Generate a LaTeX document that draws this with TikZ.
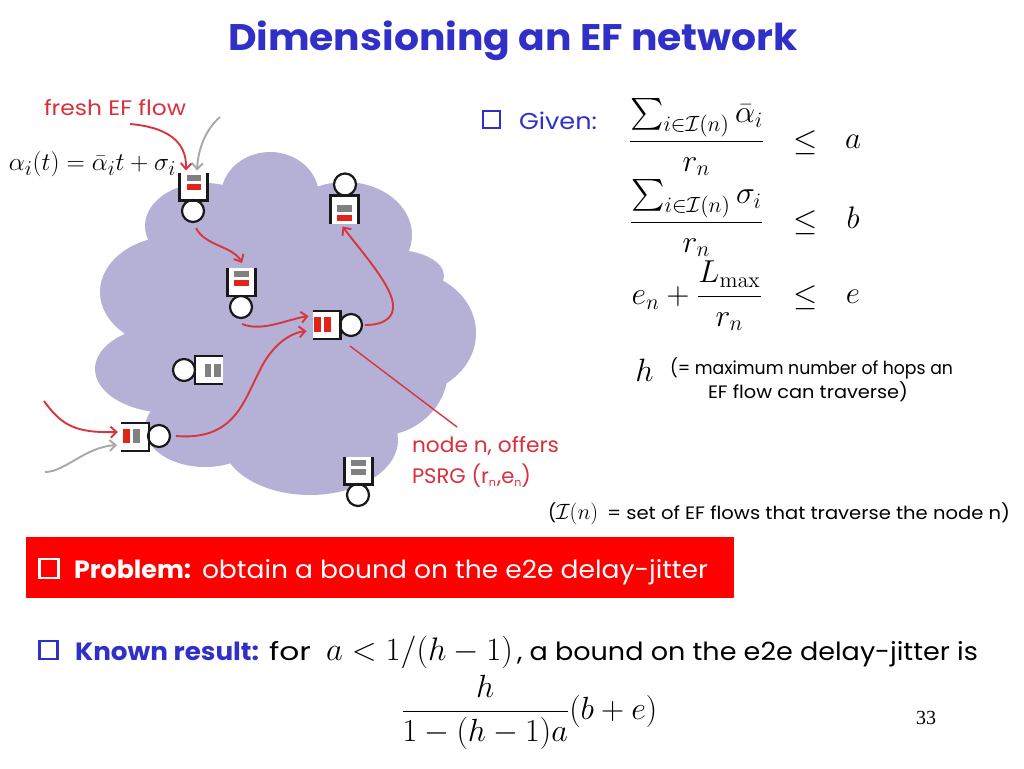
\documentclass[tikz,border=0pt]{standalone}
\usepackage[no-math]{fontspec}
\usepackage{graphicx}
\usepackage{amsmath}
\setmainfont{Poppins}
\newfontfamily\numfont{Liberation Serif}
\usetikzlibrary{arrows.meta}
\definecolor{slideblue}{HTML}{3030C8}
\definecolor{cloudc}{HTML}{B5B1D6}
\definecolor{barred}{HTML}{E2231A}
\definecolor{barg}{HTML}{808080}
\definecolor{flowred}{HTML}{D8353C}
\definecolor{flowg}{HTML}{A8A8A8}
\definecolor{lblred}{HTML}{D9303A}
\newcommand{\hfit}[2]{\resizebox{#1pt}{\height}{#2}}
\newcommand{\fsz}[1]{\fontsize{#1}{#1}\selectfont}
\newcommand{\mybigm}[2]{\scalebox{#1}{\fontsize{22}{26}\selectfont$\displaystyle #2$}}
\tikzset{
  txt/.style={anchor=base west,inner sep=0pt,outer sep=0pt},
  mth/.style={anchor=base,inner sep=0pt,outer sep=0pt},
  qbox/.style={rectangle,fill=white,minimum size=28pt,inner sep=0pt,outer sep=0pt},
  srv/.style={circle,draw=black!90,fill=white,line width=2.2pt,minimum size=22pt,inner sep=0pt,outer sep=0pt},
  wall/.style={draw=black!90,line width=2.8pt,line cap=butt,line join=miter},
  flow/.style={draw=flowred,line width=1.9pt,-{Straight Barb[length=6pt,width=11pt,line width=1.9pt]}},
  gflow/.style={draw=flowg,line width=1.9pt,-{Straight Barb[length=6pt,width=11pt,line width=1.9pt]}},
  sq/.style={rectangle,draw,line width=2.2pt,inner sep=0pt,outer sep=0pt,minimum size=17pt}
}
\begin{document}
\begin{tikzpicture}[x=1pt,y=-1pt]
\useasboundingbox (0,0) rectangle (1024,768);
% cloud
\fill[cloudc]
  (270,196) ellipse [x radius=49,y radius=44]
  (205,226) ellipse [x radius=60,y radius=43]
  (175,292) ellipse [x radius=75,y radius=56]
  (170,369) ellipse [x radius=75,y radius=44]
  (205,428) ellipse [x radius=60,y radius=39]
  (310,440) ellipse [x radius=88,y radius=55]
  (405,333) ellipse [x radius=71,y radius=62]
  (378,370) ellipse [x radius=70,y radius=66]
  (395,276) ellipse [x radius=49,y radius=26]
  (345,235) ellipse [x radius=67,y radius=53]
  (280,320) ellipse [x radius=120,y radius=120];
% title
\node[txt,text=slideblue] (title) at (228,50) {\hfit{570}{\fsz{37}\bfseries Dimensioning an EF network}};
% queue nodes
\node[qbox] (b1) at (193.5,186.5) {};
\node[srv] (c1) at (193,211) {};
\draw[wall] (b1.north west) -- (b1.south west) -- (b1.south east) -- (b1.north east);
\fill[barg] (187,175) rectangle (201,181);
\fill[barred] (187,184) rectangle (201,190);
\node[qbox] (b2) at (241.5,282) {};
\node[srv] (c2) at (241,307) {};
\draw[wall] (b2.north west) -- (b2.south west) -- (b2.south east) -- (b2.north east);
\fill[barg] (234,271) rectangle (249,277);
\fill[barred] (234,280) rectangle (249,286);
\node[qbox] (b3) at (344.5,209.5) {};
\node[srv] (c3) at (345,184.5) {};
\draw[wall] (b3.south west) -- (b3.north west) -- (b3.north east) -- (b3.south east);
\fill[barg] (337,205) rectangle (352,212);
\fill[barred] (337,215) rectangle (352,221);
\node[qbox] (bm) at (326.5,325) {};
\node[srv] (cm) at (351,325) {};
\draw[wall] (bm.north west) -- (bm.north east) -- (bm.south east) -- (bm.south west);
\fill[barred] (314,317) rectangle (321,332);
\fill[barred] (324,317) rectangle (331,332);
\node[qbox] (bg) at (209,370) {};
\node[srv] (cg) at (184,370) {};
\draw[wall] (bg.north east) -- (bg.north west) -- (bg.south west) -- (bg.south east);
\fill[barg] (205,364) rectangle (211,377);
\fill[barg] (214,364) rectangle (221,377);
\node[qbox] (bl) at (135,437) {};
\node[srv] (cl) at (159,436) {};
\draw[wall] (bl.north west) -- (bl.north east) -- (bl.south east) -- (bl.south west);
\fill[barred] (123,429) rectangle (129.5,443);
\fill[barg] (133,429) rectangle (139.5,443);
\node[qbox] (bb) at (358.5,470.5) {};
\node[srv] (cb) at (358,495) {};
\draw[wall] (bb.north west) -- (bb.south west) -- (bb.south east) -- (bb.north east);
\fill[barg] (351,460) rectangle (366,466);
\fill[barg] (351,469) rectangle (366,475);
% labels of figure
\node[txt,text=lblred] (fresh) at (44,115) {\hfit{142}{\fsz{21}fresh EF flow}};
\node[mth,anchor=base west] (alpha) at (9,170) {\scalebox{1.47}{\fontsize{19}{23}\selectfont$\alpha_i(t)=\bar\alpha_i t+\sigma_i$}};
\node[txt,text=lblred] (noden) at (412,452) {\hfit{147}{\fsz{21}node n, offers}};
\node[txt,text=lblred] (psrg) at (412,483) {\hfit{119}{\fsz{21}PSRG (r\raisebox{-3pt}{\fsz{11}n}\kern1pt,e\raisebox{-3pt}{\fsz{11}n})}};
% free ends
\coordinate (f1) at (130,124);
\coordinate (f2) at (220,117);
\coordinate (f3) at (44,401);
\coordinate (f4) at (45,472);
\coordinate (f5) at (457,427);
% connectors
\draw[flow] (f1) .. controls (165,127) and (187,140) .. ([xshift=-7.5pt,yshift=2pt]b1.north);
\draw[gflow] (f2) .. controls (205,130) and (198,150) .. ([xshift=3.5pt,yshift=2pt]b1.north);
\draw[flow] ([xshift=3pt,yshift=-6pt]c1.south) .. controls (205,246) and (233,246) .. ([xshift=0.5pt,yshift=5pt]b2.north);
\draw[flow] ([xshift=1pt,yshift=-6pt]c2.south) .. controls (262,332) and (285,320) .. ([xshift=-4pt,yshift=9pt]bm.west);
\draw[flow] ([xshift=6pt]cl.east) .. controls (235,441) and (244,400) .. (260,370) .. controls (272,345) and (290,333) .. ([xshift=-6pt,yshift=-6pt]bm.west);
\draw[flow] ([xshift=3pt]cm.east) .. controls (385,325) and (394,317) .. (393,305) .. controls (392,285) and (360,250) .. ([xshift=-2pt,yshift=-3pt]b3.south);
\draw[flow] (f3) .. controls (62,426) and (76,433) .. ([xshift=-3pt,yshift=5pt]bl.west);
\draw[gflow] (f4) .. controls (65,472) and (85,447) .. ([xshift=-4pt,yshift=-8pt]bl.west);
\draw[draw=flowred,line width=1.4pt] ([xshift=-1pt,yshift=-10pt]cm.south) -- (f5);
% given
\node[sq,draw=slideblue] (sqg) at (491.5,119.5) {};
\node[txt,text=slideblue] (given) at (519,129) {\hfit{78}{\fsz{23}Given:}};
\node[mth] (f1a) at (696.5,149.4) {\mybigm{1.53}{\frac{\sum_{i\in\mathcal{I}(n)}\bar\alpha_i}{r_n}}};
\node[mth] (le1) at (806,150) {\mybigm{1.5}{\leq}};
\node[mth] (ra) at (853,148) {\mybigm{1.5}{a}};
\node[mth] (f2a) at (696.5,230.4) {\mybigm{1.53}{\frac{\sum_{i\in\mathcal{I}(n)}\sigma_i}{r_n}}};
\node[mth] (le2) at (806,230) {\mybigm{1.5}{\leq}};
\node[mth] (rb) at (853,228) {\mybigm{1.5}{b}};
\node[mth] (f3a) at (697,304.4) {\mybigm{1.53}{e_n+\frac{L_{\max}}{r_n}}};
\node[mth] (le3) at (806,305) {\mybigm{1.5}{\leq}};
\node[mth] (re) at (853,303) {\mybigm{1.5}{e}};
\node[mth] (hh) at (644.5,381) {\scalebox{1.3}{\fontsize{28}{32}\selectfont$h$}};
\node[txt] (hops1) at (670,374) {\hfit{283}{\fsz{18}(= maximum number of hops an}};
\node[txt] (hops2) at (708,398) {\hfit{200}{\fsz{18}EF flow can traverse)}};
\node[txt] (setp) at (548,519) {\fsz{18}(};
\node[mth,anchor=base west] (setm) at (556,519) {\scalebox{1.28}{\fontsize{17}{20}\selectfont$\mathcal{I}(n)$}};
\node[txt] (sett) at (607,519) {\hfit{403}{\fsz{18}= set of EF flows that traverse the node n)}};
% problem
\fill[red] (26,537) rectangle (734,598);
\node[sq,draw=white,minimum size=19pt] (sqp) at (49,568.5) {};
\node[txt,text=white] (prob) at (74,578) {\hfit{117}{\fsz{25}\bfseries Problem:}};
\node[txt,text=white] (probt) at (202,578) {\hfit{506}{\fsz{25}obtain a bound on the e2e delay-jitter}};
% known
\node[sq,draw=slideblue,minimum size=18pt] (sqk) at (48.5,650) {};
\node[txt,text=slideblue] (known) at (75,660) {\hfit{184}{\fsz{25}\bfseries Known result:}};
\node[txt] (for) at (269,660) {\hfit{42}{\fsz{25}for}};
\node[mth,anchor=base west] (cond) at (326,660) {\scalebox{1.31}{\fontsize{24}{28}\selectfont$a<1/(h-1)$}};
\node[txt] (bnd) at (517,660) {\hfit{461}{\fsz{25}, a bound on the e2e delay-jitter is}};
\node[mth,anchor=base west] (res) at (401,719.3) {\scalebox{1.29}{\fontsize{24}{28}\selectfont$\displaystyle\frac{h}{1-(h-1)a}(b+e)$}};
\node[txt] (pg) at (916,724) {\numfont\fsz{20}33};
\end{tikzpicture}
\end{document}
